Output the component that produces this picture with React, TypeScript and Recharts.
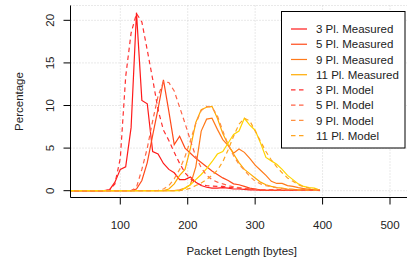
import React from 'react';
import { LineChart, Line, XAxis, YAxis, CartesianGrid } from 'recharts';

// Packet length bins [bytes]
const packetLength = [20, 28, 36, 44, 52, 60, 68, 76, 84, 92, 100, 108, 116, 124, 132, 140, 148, 156, 164, 172, 180, 188, 196, 204, 212, 220, 228, 236, 244, 252, 260, 268, 276, 284, 292, 300, 308, 316, 324, 332, 340, 348, 356, 364, 372, 380, 388, 396];

// Measured distributions [%]
const measured3 = [0, 0, 0, 0, 0, 0, 0, 0, 0.1, 1.0, 2.5, 2.8, 7.4, 20.9, 10.6, 10.2, 4.6, 4.3, 3.2, 2.5, 2.1, 1.3, 1.3, 1.6, 1.0, 0.6, 0.4, 0.3, 0.3, 0.35, 0.3, 0.2, 0.2, 0.15, 0.1, 0.1, 0.05, 0.05, 0.05, 0.05, 0.05, 0.05, 0.05, 0.05, 0.05, 0.05, 0.05, 0.05];
const measured5 = [0, 0, 0, 0, 0, 0, 0, 0, 0, 0, 0, 0, 0, 0.2, 1.2, 3.3, 6.5, 9.6, 13.0, 9.3, 5.4, 6.4, 5.0, 4.4, 3.8, 3.3, 2.8, 2.3, 1.9, 1.5, 1.2, 0.8, 0.7, 0.5, 0.3, 0.2, 0.1, 0.05, 0.05, 0.05, 0.05, 0.05, 0.05, 0.05, 0.05, 0.05, 0.05, 0.05];
const measured9 = [0, 0, 0, 0, 0, 0, 0, 0, 0, 0, 0, 0, 0, 0, 0, 0, 0, 0, 0, 0, 0, 0.1, 0.3, 0.7, 2.8, 7.0, 8.4, 8.5, 7.2, 6.0, 5.3, 4.4, 4.9, 4.5, 3.8, 3.0, 2.4, 1.8, 1.1, 0.85, 0.85, 0.6, 0.5, 0.35, 0.25, 0.15, 0.1, 0.05];
const measured11 = [0, 0, 0, 0, 0, 0, 0, 0, 0, 0, 0, 0, 0, 0, 0, 0, 0, 0, 0, 0.2, 0.8, 1.8, 2.5, 5.0, 8.0, 9.5, 9.8, 9.9, 8.5, 6.7, 5.4, 4.3, 3.3, 2.5, 2.0, 1.5, 1.0, 0.7, 0.5, 0.35, 0.3, 0.2, 0.15, 0.1, 0.1, 0.05, 0.05, 0];
const measuredExtra = [0, 0, 0, 0, 0, 0, 0, 0, 0, 0, 0, 0, 0, 0, 0, 0, 0, 0, 0, 0, 0, 0, 0.3, 0.7, 1.3, 1.9, 2.6, 3.4, 4.3, 4.6, 5.6, 6.6, 7.0, 8.5, 7.7, 7.1, 5.6, 3.9, 3.5, 3.1, 2.5, 1.8, 1.3, 0.8, 0.5, 0.35, 0.3, 0.05];

// Model distributions [%]
const model3 = [0, 0, 0, 0, 0, 0, 0, 0, 0.1, 0.8, 3.8, 13.4, 18.5, 20.8, 19.8, 16.5, 13.1, 9.5, 7.1, 5.9, 4.5, 3.2, 2.1, 1.4, 0.9, 0.7, 0.6, 0.55, 0.5, 0.5, 0.4, 0.35, 0.3, 0.25, 0.2, 0.15, 0.1, 0.1, 0.1, 0.1, 0.1, 0.05, 0.05, 0.05, 0.05, 0.05, 0.05, 0.05];
const model5 = [0, 0, 0, 0, 0, 0, 0, 0, 0, 0, 0, 0, 0, 0.4, 2.5, 5.0, 8.2, 11.1, 12.8, 12.7, 11.7, 9.8, 7.9, 5.9, 4.0, 2.7, 1.8, 1.3, 1.0, 0.8, 0.6, 0.45, 0.35, 0.25, 0.2, 0.15, 0.1, 0.1, 0.1, 0.05, 0.05, 0.05, 0.05, 0.05, 0.05, 0.05, 0.05, 0.05];
const model9 = [0, 0, 0, 0, 0, 0, 0, 0, 0, 0, 0, 0, 0, 0, 0, 0, 0, 0.05, 0.2, 0.6, 1.4, 2.5, 4.0, 5.9, 7.9, 9.4, 9.9, 9.8, 8.8, 7.0, 5.4, 4.1, 3.1, 2.4, 1.7, 1.1, 0.8, 0.6, 0.45, 0.35, 0.25, 0.2, 0.15, 0.1, 0.1, 0.05, 0.05, 0.05];
const model11 = [0, 0, 0, 0, 0, 0, 0, 0, 0, 0, 0, 0, 0, 0, 0, 0, 0, 0, 0, 0, 0, 0, 0.1, 0.3, 0.6, 0.9, 1.3, 1.8, 2.4, 3.4, 4.8, 6.4, 7.8, 8.5, 8.2, 7.0, 5.8, 4.6, 3.6, 2.8, 2.1, 1.5, 1.1, 0.7, 0.45, 0.3, 0.2, 0.1];

const xTicks = [100, 200, 300, 400, 500];
const yTicks = [0, 5, 10, 15, 20];

const legendLabels = ['3 Pl. Measured', '5 Pl. Measured', '9 Pl. Measured', '11 Pl. Measured', '3 Pl. Model', '5 Pl. Model', '9 Pl. Model', '11 Pl. Model'];

const table = packetLength.map((x, i) => ({
  x,
  m3: measured3[i],
  m5: measured5[i],
  m9: measured9[i],
  m11: measured11[i],
  mx: measuredExtra[i],
  d3: model3[i],
  d5: model5[i],
  d9: model9[i],
  d11: model11[i],
}));

const FONT = '"Liberation Sans", Arial, Helvetica, sans-serif';
const FS = 11.5;
const TXT = '#222';
const DASH = '4.5 3.5';

const SERIES = [
  { key: 'm3', color: '#FF1A1A', dashed: false },
  { key: 'm5', color: '#FF4A1A', dashed: false },
  { key: 'm9', color: '#FF7A1A', dashed: false },
  { key: 'm11', color: '#FFAA00', dashed: false },
  { key: 'mx', color: '#FFD500', dashed: false },
  { key: 'd3', color: '#FF3030', dashed: true },
  { key: 'd5', color: '#FF6347', dashed: true },
  { key: 'd9', color: '#FF9040', dashed: true },
  { key: 'd11', color: '#FFA520', dashed: true },
];

const LEGEND = [
  { color: '#FF1A1A', dashed: false },
  { color: '#FF4A1A', dashed: false },
  { color: '#FF7A1A', dashed: false },
  { color: '#FFAA00', dashed: false },
  { color: '#FF3030', dashed: true },
  { color: '#FF6347', dashed: true },
  { color: '#FF9040', dashed: true },
  { color: '#FFA520', dashed: true },
];

const XTick = (props: any) => {
  const { x, y, payload } = props;
  return (
    <text x={x} y={y + 24.5} textAnchor="middle" fontFamily={FONT} fontSize={FS} fill={TXT}>
      {payload.value}
    </text>
  );
};

const YTick = (props: any) => {
  const { x, y, payload } = props;
  const bx = x - 9.2;
  return (
    <text x={bx} y={y} transform={`rotate(-90 ${bx} ${y})`} textAnchor="middle" fontFamily={FONT} fontSize={FS} fill={TXT}>
      {payload.value}
    </text>
  );
};

export default function App() {
  const rowY = (i: number) => 29 + 15.24 * i;
  return (
    <div style={{ position: 'absolute', left: 0, top: 0, width: 407, height: 265, overflow: 'hidden', background: '#fff' }}>
      <LineChart width={414} height={265} data={table} margin={{ top: 5.5, right: 1, bottom: 0, left: 0 }}>
        <CartesianGrid stroke="#d3d3d3" strokeDasharray="1 2" />
        <XAxis
          dataKey="x"
          type="number"
          domain={[26.15, 534.1]}
          allowDataOverflow
          ticks={xTicks}
          interval={0}
          tickSize={7}
          tickMargin={0}
          tickLine={{ stroke: '#000' }}
          axisLine={{ stroke: '#000' }}
          height={67.5}
          tick={XTick}
        />
        <XAxis
          xAxisId="top"
          orientation="top"
          type="number"
          domain={[26.15, 534.1]}
          height={0}
          tick={false}
          tickLine={false}
          axisLine={{ stroke: '#000' }}
        />
        <YAxis
          type="number"
          domain={[-0.8, 21.74]}
          allowDataOverflow
          ticks={yTicks}
          interval={0}
          tickSize={7}
          tickMargin={0}
          tickLine={{ stroke: '#000' }}
          axisLine={{ stroke: '#000' }}
          width={70.5}
          tick={YTick}
        />
        {SERIES.map((s) => (
          <Line
            key={s.key}
            dataKey={s.key}
            type="linear"
            stroke={s.color}
            strokeWidth={1.2}
            strokeDasharray={s.dashed ? DASH : undefined}
            dot={false}
            activeDot={false}
            isAnimationActive={false}
          />
        ))}
      </LineChart>
      <svg width={407} height={265} style={{ position: 'absolute', left: 0, top: 0, pointerEvents: 'none' }}>
        <text x={241.7} y={255} textAnchor="middle" fontFamily={FONT} fontSize={FS} fill={TXT}>
          Packet Length [bytes]
        </text>
        <text x={23.2} y={101.5} transform="rotate(-90 23.2 101.5)" textAnchor="middle" fontFamily={FONT} fontSize={FS} fill={TXT}>
          Percentage
        </text>
        <rect x={281.5} y={11.5} width={123.5} height={136.5} fill="#fff" stroke="#000" strokeWidth={1} />
        {legendLabels.map((label, i) => (
          <g key={label}>
            <line
              x1={291}
              x2={307}
              y1={rowY(i)}
              y2={rowY(i)}
              stroke={LEGEND[i].color}
              strokeWidth={1.2}
              strokeDasharray={LEGEND[i].dashed ? DASH : undefined}
            />
            <text x={316} y={rowY(i) + 4.2} fontFamily={FONT} fontSize={FS} fill={TXT}>
              {label}
            </text>
          </g>
        ))}
      </svg>
    </div>
  );
}
